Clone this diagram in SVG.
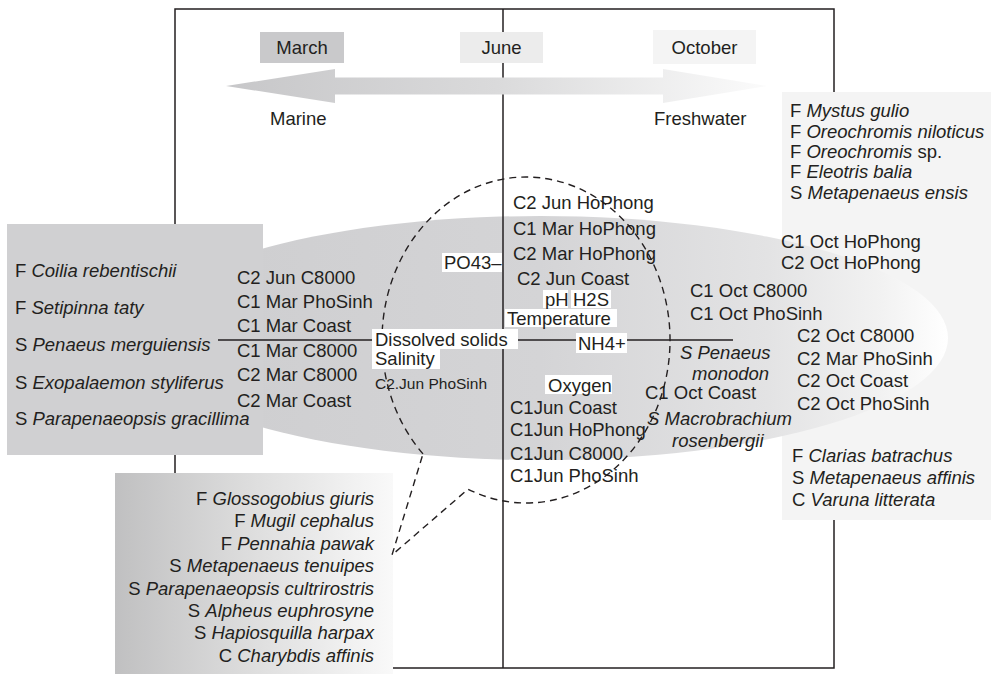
<svg xmlns="http://www.w3.org/2000/svg" width="991" height="674" viewBox="0 0 991 674">
<defs>
<style>
.t{font-family:"Liberation Sans",Arial,sans-serif;font-size:18.5px;fill:#231f20}
.i{font-style:italic}
.s{font-size:15.5px}
.ln{stroke:#231f20;stroke-width:1.5;fill:none}
.wb{fill:#ffffff}
.dash{stroke:#231f20;stroke-width:1.4;fill:none;stroke-dasharray:7 5}
</style>
<linearGradient id="gEll" x1="0" y1="0" x2="1" y2="0">
<stop offset="0" stop-color="#cdcdcf"/>
<stop offset="0.5" stop-color="#d4d4d6"/>
<stop offset="0.78" stop-color="#e3e3e4"/>
<stop offset="0.92" stop-color="#f2f2f2"/>
<stop offset="1" stop-color="#ffffff"/>
</linearGradient>
<linearGradient id="gArrow" x1="0" y1="0" x2="1" y2="0">
<stop offset="0" stop-color="#c7c7c9"/>
<stop offset="0.5" stop-color="#dadadb"/>
<stop offset="1" stop-color="#fbfbfb"/>
</linearGradient>
<linearGradient id="gLow" x1="0" y1="0" x2="1" y2="0">
<stop offset="0" stop-color="#c0c0c1"/>
<stop offset="0.5" stop-color="#dedede"/>
<stop offset="1" stop-color="#f9f9f9"/>
</linearGradient>
</defs>
<rect width="991" height="674" fill="#ffffff"/>

<g id="frame">
<rect x="175" y="9" width="659" height="659" class="ln"/>
</g>

<g id="freshwater-box">
<rect x="782" y="92" width="209" height="428" fill="#f4f4f4"/>
</g>

<g id="ellipse">
<ellipse cx="540" cy="338" rx="408" ry="122" fill="url(#gEll)"/>
</g>

<g id="marine-box">
<rect x="7" y="224" width="256" height="231" fill="#d0d0d2"/>
</g>

<g id="lower-box">
<rect x="115" y="473" width="278" height="201" fill="url(#gLow)"/>
</g>

<g id="connectors">
<line x1="503" y1="9" x2="503" y2="668" class="ln"/>
<line x1="218" y1="340" x2="733" y2="340" class="ln"/>
</g>

<g id="arrow">
<polygon points="226,86 335,69 335,77.5 663,77.5 663,69 767,86 663,103 663,94.5 335,94.5 335,103" fill="url(#gArrow)"/>
</g>

<g id="months">
<rect x="260" y="32" width="84" height="31" fill="#c9c9cb"/>
<text x="302" y="53.6" class="t" text-anchor="middle">March</text>
<rect x="460" y="32" width="83" height="31" fill="#ececec"/>
<text x="501.5" y="53.6" class="t" text-anchor="middle">June</text>
<rect x="653" y="30" width="103" height="34" fill="#f4f4f4"/>
<text x="704.5" y="53.6" class="t" text-anchor="middle">October</text>
<text x="270" y="124.6" class="t">Marine</text>
<text x="654" y="124.6" class="t">Freshwater</text>
</g>

<g id="marine-species">
<text x="15" y="276.6" class="t">F <tspan class="i">Coilia rebentischii</tspan></text>
<text x="15" y="313.6" class="t">F <tspan class="i">Setipinna taty</tspan></text>
<text x="15" y="350.6" class="t">S <tspan class="i">Penaeus merguiensis</tspan></text>
<text x="15" y="388.6" class="t">S <tspan class="i">Exopalaemon styliferus</tspan></text>
<text x="15" y="424.6" class="t">S <tspan class="i">Parapenaeopsis gracillima</tspan></text>
</g>

<g id="march-sites">
<text x="237" y="283.6" class="t">C2 Jun C8000</text>
<text x="237" y="307.6" class="t">C1 Mar PhoSinh</text>
<text x="237" y="331.6" class="t">C1 Mar Coast</text>
<text x="237" y="356.6" class="t">C1 Mar C8000</text>
<text x="237" y="380.6" class="t">C2 Mar C8000</text>
<text x="237" y="406.6" class="t">C2 Mar Coast</text>
</g>

<g id="june-sites">
<text x="513" y="208.6" class="t">C2 Jun HoPhong</text>
<text x="513" y="234.6" class="t">C1 Mar HoPhong</text>
<text x="513" y="259.6" class="t">C2 Mar HoPhong</text>
<text x="517" y="284.6" class="t">C2 Jun Coast</text>
<text x="375" y="388.5" class="t s">C2.Jun PhoSinh</text>
<text x="510" y="413.6" class="t">C1Jun Coast</text>
<text x="510" y="435.6" class="t">C1Jun HoPhong</text>
<text x="510" y="459.6" class="t">C1Jun C8000</text>
<text x="510" y="481.6" class="t">C1Jun PhoSinh</text>
</g>

<g id="october-sites">
<text x="690" y="296.6" class="t">C1 Oct C8000</text>
<text x="690" y="319.6" class="t">C1 Oct PhoSinh</text>
<text x="680" y="358.6" class="t i">S Penaeus</text>
<text x="692" y="379.6" class="t i">monodon</text>
<text x="645" y="398.6" class="t">C1 Oct Coast</text>
<text x="647" y="424.6" class="t i">S Macrobrachium</text>
<text x="672" y="446.6" class="t i">rosenbergii</text>
<text x="781" y="247.6" class="t">C1 Oct HoPhong</text>
<text x="781" y="268.6" class="t">C2 Oct HoPhong</text>
<text x="797" y="341.6" class="t">C2 Oct C8000</text>
<text x="797" y="364.6" class="t">C2 Mar PhoSinh</text>
<text x="797" y="386.6" class="t">C2 Oct Coast</text>
<text x="797" y="409.6" class="t">C2 Oct PhoSinh</text>
</g>

<g id="freshwater-species">
<text x="790" y="116.6" class="t">F <tspan class="i">Mystus gulio</tspan></text>
<text x="790" y="137.6" class="t">F <tspan class="i">Oreochromis niloticus</tspan></text>
<text x="790" y="157.6" class="t">F <tspan class="i">Oreochromis</tspan> sp.</text>
<text x="790" y="177.6" class="t">F <tspan class="i">Eleotris balia</tspan></text>
<text x="790" y="198.6" class="t">S <tspan class="i">Metapenaeus ensis</tspan></text>
<text x="792" y="461.6" class="t">F <tspan class="i">Clarias batrachus</tspan></text>
<text x="792" y="483.6" class="t">S <tspan class="i">Metapenaeus affinis</tspan></text>
<text x="792" y="505.6" class="t">C <tspan class="i">Varuna litterata</tspan></text>
</g>

<g id="estuarine-species">
<text x="374" y="504.6" class="t" text-anchor="end">F <tspan class="i">Glossogobius giuris</tspan></text>
<text x="374" y="526.6" class="t" text-anchor="end">F <tspan class="i">Mugil cephalus</tspan></text>
<text x="374" y="549.6" class="t" text-anchor="end">F <tspan class="i">Pennahia pawak</tspan></text>
<text x="374" y="571.6" class="t" text-anchor="end">S <tspan class="i">Metapenaeus tenuipes</tspan></text>
<text x="374" y="594.6" class="t" text-anchor="end">S <tspan class="i">Parapenaeopsis cultrirostris</tspan></text>
<text x="374" y="616.6" class="t" text-anchor="end">S <tspan class="i">Alpheus euphrosyne</tspan></text>
<text x="374" y="638.6" class="t" text-anchor="end">S <tspan class="i">Hapiosquilla harpax</tspan></text>
<text x="374" y="661.6" class="t" text-anchor="end">C <tspan class="i">Charybdis affinis</tspan></text>
</g>

<g id="bubble">
<path d="M423,453.9 A144,163 0 1 1 468,489.2 L392,555 Z" class="dash"/>
</g>

<g id="variables">
<rect x="442" y="253" width="60" height="19" class="wb"/>
<text x="444" y="268.6" class="t">PO43–</text>
<rect x="543" y="290" width="25" height="18" class="wb"/>
<text x="545" y="305.6" class="t">pH</text>
<rect x="571" y="290" width="40" height="18" class="wb"/>
<text x="573" y="305.6" class="t">H2S</text>
<rect x="505" y="309" width="112" height="18" class="wb"/>
<text x="507" y="324.6" class="t">Temperature</text>
<rect x="372" y="329" width="146" height="20" class="wb"/>
<text x="375" y="345.6" class="t">Dissolved solids</text>
<rect x="372" y="349" width="68" height="20" class="wb"/>
<text x="375" y="364.6" class="t">Salinity</text>
<rect x="576" y="333" width="51" height="20" class="wb"/>
<text x="578" y="349.6" class="t">NH4+</text>
<rect x="545" y="375" width="67" height="19" class="wb"/>
<text x="548" y="391.6" class="t">Oxygen</text>
</g>
</svg>
